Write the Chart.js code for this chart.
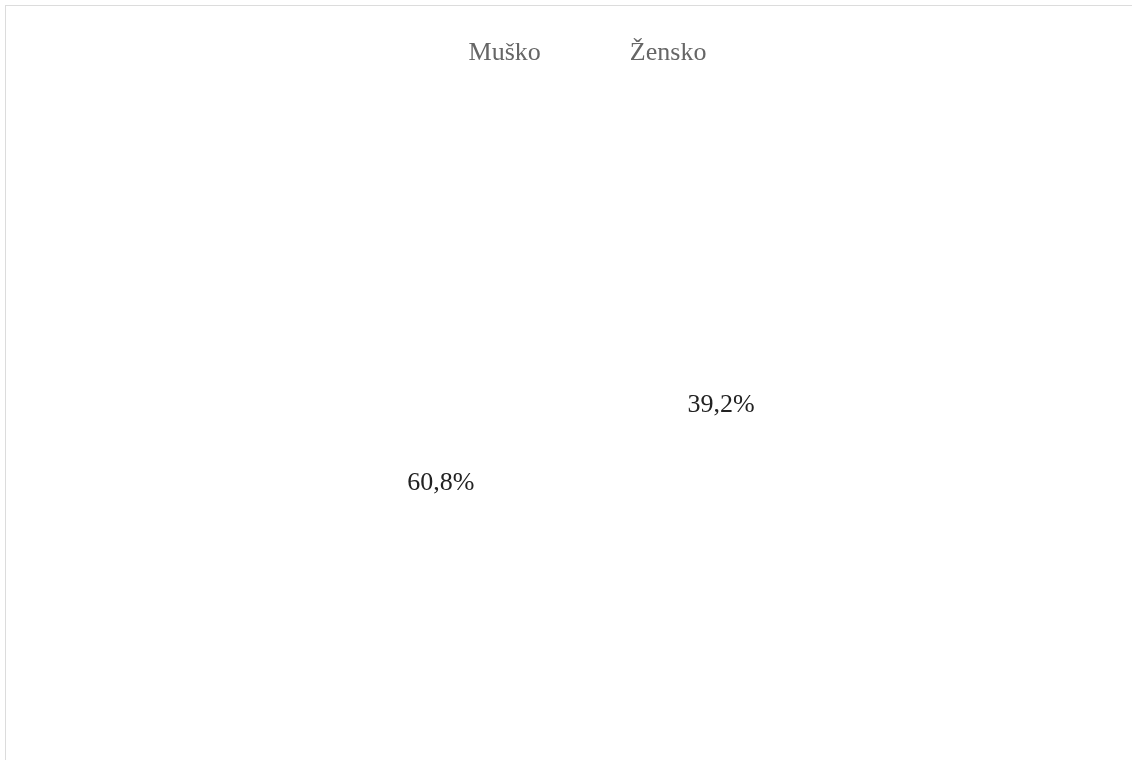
<!DOCTYPE html>
<html>
<head>
<meta charset="utf-8">
<script src="https://cdn.jsdelivr.net/npm/chart.js@4.4.0/dist/chart.umd.min.js"></script>
<style>
    html, body { margin: 0; padding: 0; background: #fff; overflow: hidden; }
    #frame {
        position: absolute; left: 5px; top: 5px;
        width: 1160px; height: 820px;
        border: 1px solid #dcdcdc;
        overflow: hidden;
    }
    #genderChart { position: absolute; left: 284px; top: -42px; }
</style>
</head>
<body>
<div id="frame">
    <canvas id="genderChart" width="582" height="848"></canvas>
</div>
<script>
// ===========================
// Data
// ===========================

const genderLabels = ['Muško', 'Žensko'];
const genderShare = [60.8, 39.2];

// slices and legend markers are invisible in the reference
const sliceColors = ['rgba(0,0,0,0)', 'rgba(0,0,0,0)'];

const FONT_FAMILY = '"Liberation Serif", "Times New Roman", serif';

function formatShare(v) {
    return v.toFixed(1).replace('.', ',') + '%';
}

// ===========================
// Percent labels on slices
// ===========================

const sliceLabels = {
    id: 'sliceLabels',
    afterDatasetsDraw(chart) {
        const ctx = chart.ctx;
        const meta = chart.getDatasetMeta(0);
        ctx.save();
        ctx.font = '26px ' + FONT_FAMILY;
        ctx.fillStyle = '#222';
        ctx.textAlign = 'center';
        ctx.textBaseline = 'middle';
        meta.data.forEach(function(arc, i) {
            const p = arc.tooltipPosition();
            ctx.fillText(formatShare(genderShare[i]), p.x, p.y);
        });
        ctx.restore();
    }
};

// ===========================
// Chart
// ===========================

new Chart(document.getElementById('genderChart'), {
    type: 'pie',
    data: {
        labels: genderLabels,
        datasets: [{
            data: genderShare,
            backgroundColor: sliceColors,
            borderWidth: 0,
            hoverOffset: 0
        }]
    },
    options: {
        responsive: false,
        animation: false,
        rotation: 145,
        layout: { padding: 0 },
        plugins: {
            legend: {
                display: true,
                position: 'top',
                labels: {
                    boxWidth: 0,
                    padding: 76,
                    color: '#666',
                    font: { family: FONT_FAMILY, size: 26 }
                }
            },
            tooltip: { enabled: false }
        }
    },
    plugins: [sliceLabels]
});
</script>
</body>
</html>
